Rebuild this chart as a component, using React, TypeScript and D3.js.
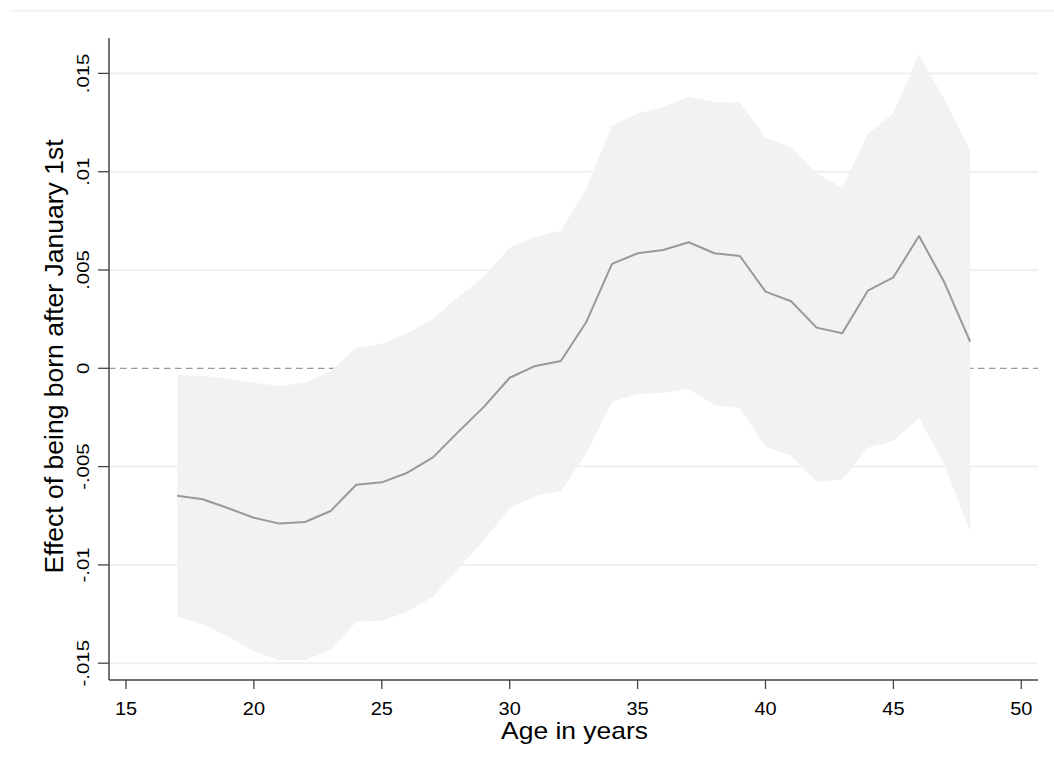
import React from "react";
import * as d3 from "d3";

const ages = [17,18,19,20,21,22,23,24,25,26,27,28,29,30,31,32,33,34,35,36,37,38,39,40,41,42,43,44,45,46,47,48];
const estimate = [-0.00648,-0.00666,-0.00712,-0.0076,-0.0079,-0.00782,-0.00726,-0.00592,-0.0058,-0.00531,-0.00453,-0.00322,-0.00195,-0.00048,0.00012,0.00037,0.00237,0.00531,0.00585,0.00602,0.00641,0.00585,0.00571,0.0039,0.00341,0.00207,0.00178,0.00395,0.00463,0.00673,0.00435,0.00135];
const upper = [-0.00034,-0.00039,-0.00051,-0.00073,-0.0009,-0.00073,-0.00014,0.00105,0.00124,0.00178,0.00251,0.00364,0.00466,0.00615,0.00669,0.00698,0.00916,0.01232,0.01297,0.01328,0.01382,0.01354,0.01351,0.01173,0.01124,0.00992,0.00919,0.01192,0.01297,0.01597,0.01365,0.0111];
const lower = [-0.01263,-0.01301,-0.01365,-0.01441,-0.01484,-0.01484,-0.01433,-0.01289,-0.01284,-0.01238,-0.01162,-0.01017,-0.00873,-0.00712,-0.0065,-0.00624,-0.00432,-0.0017,-0.00131,-0.00124,-0.00105,-0.00187,-0.00203,-0.00399,-0.00444,-0.00577,-0.00565,-0.00404,-0.0037,-0.00251,-0.00492,-0.00831];
const xTicks = [15,20,25,30,35,40,45,50];
const yTicks = [-0.015,-0.01,-0.005,0,0.005,0.01,0.015];
const yTickLabels = ["-.015","-.01","-.005","0",".005",".01",".015"];
const xTitle = "Age in years";
const yTitle = "Effect of being born after January 1st";

const font = "'Liberation Sans', Arial, sans-serif";

export default function App() {
  const left = 109, right = 1038, top = 38, bottom = 680;
  const x = d3.scaleLinear().domain([15, 50]).range([126, 1021.3]);
  const y = d3.scaleLinear().domain([0, 0.015]).range([368.3, 73.4]);

  const rows = ages.map((a, i) => ({ a, e: estimate[i], u: upper[i], l: lower[i] }));
  const area = d3.area<any>().x(d => x(d.a)).y0(d => y(d.l)).y1(d => y(d.u));
  const line = d3.line<any>().x(d => x(d.a)).y(d => y(d.e));

  return (
    <svg width={1054} height={773} style={{ position: "absolute", left: 0, top: 0, background: "#fff" }}>
      <line x1={10} x2={1054} y1={10.7} y2={10.7} stroke="#eaf2f3" strokeWidth={1.5} />
      {yTicks.map((t, i) => (
        t === 0 ? null :
        <line key={"g" + i} x1={left} x2={right} y1={y(t)} y2={y(t)} stroke="#eaf2f3" strokeWidth={2} />
      ))}
      <line x1={left} x2={right} y1={y(0)} y2={y(0)} stroke="#999" strokeWidth={1.3} strokeDasharray="6.5,4.5" />
      <path d={area(rows) || ""} fill="#f2f2f2" />
      <path d={line(rows) || ""} fill="none" stroke="#999999" strokeWidth={2} strokeLinejoin="round" />
      {/* axes */}
      <line x1={left} x2={left} y1={top} y2={bottom} stroke="#444" strokeWidth={1.5} />
      <line x1={left} x2={right} y1={bottom} y2={bottom} stroke="#444" strokeWidth={1.5} />
      {yTicks.map((t, i) => (
        <g key={"y" + i}>
          <line x1={left - 11} x2={left} y1={y(t)} y2={y(t)} stroke="#444" strokeWidth={1.3} />
          <text transform={`translate(89.3,${y(t)}) rotate(-90) scale(1.2,1)`} textAnchor="middle" fontFamily={font} fontSize={17} fill="#000">{yTickLabels[i]}</text>
        </g>
      ))}
      {xTicks.map((t, i) => (
        <g key={"x" + i}>
          <line x1={x(t)} x2={x(t)} y1={bottom} y2={bottom + 9} stroke="#444" strokeWidth={1.3} />
          <text transform={`translate(${x(t)},715) scale(1.14,1)`} textAnchor="middle" fontFamily={font} fontSize={17.5} fill="#000">{t}</text>
        </g>
      ))}
      <text transform={`translate(${(left + right) / 2 + 1},739.3) scale(1.15,1)`} textAnchor="middle" fontFamily={font} fontSize={23} fill="#000">{xTitle}</text>
      <text transform={`translate(63.3,356.5) rotate(-90)`} textAnchor="middle" fontFamily={font} fontSize={26.5} fill="#000">{yTitle}</text>
    </svg>
  );
}
